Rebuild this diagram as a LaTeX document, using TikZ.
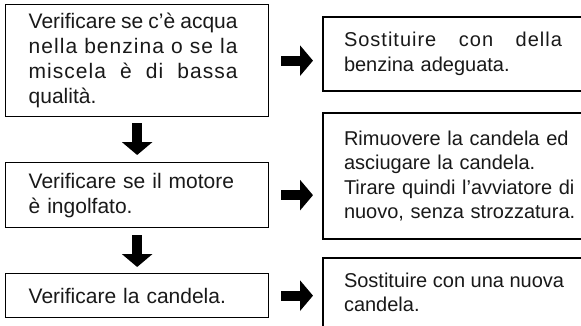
\documentclass[tikz,border=0pt]{standalone}
\usepackage{fontspec}
\setmainfont{Liberation Sans}
\usetikzlibrary{arrows.meta,calc}
\newcommand{\spacedfont}{\addfontfeature{LetterSpace=5}}
\begin{document}
\begin{tikzpicture}[x=1pt,y=-1pt,
  ltxt/.style={font=\fontsize{21}{25}\selectfont, text=black!90, align=left},
  rtxt/.style={font=\fontsize{20}{24.5}\selectfont, text=black!90, align=left},
  lbox/.style={ltxt, draw, line width=1.3pt, anchor=north west, inner xsep=23pt, inner ysep=0pt, text width=217pt},
  rbox/.style={rtxt, draw, line width=2pt, anchor=north west, inner xsep=21pt, inner ysep=0pt, text width=240pt},
  blockarrow/.style={line width=10pt, -{Triangle[width=30pt,length=13pt]}, black}
]
\useasboundingbox (0,0) rectangle (581,325);
\clip (0,0) rectangle (581,325);
\fill[white] (0,0) rectangle (581,325);

\node[lbox, minimum height=112pt] (L1) at (5,4) {%
  \makebox[209pt][l]{Verificare\hfill se\hfill c’è\hfill acqua}\\
  \makebox[209pt][l]{\spacedfont nella\hfill benzina\hfill o\hfill se\hfill la}\\
  \makebox[209pt][l]{\spacedfont miscela\hfill è\hfill di\hfill bassa}\\
  qualità.};
\node[lbox, minimum height=65pt] (L2) at (5,162) {Verificare se il motore\\ è ingolfato.};
\node[lbox, minimum height=44pt] (L3) at (5,273) {Verificare la candela.};

\node[rbox, minimum height=74pt] (R1) at (322,16) {%
  \makebox[218pt][l]{\spacedfont Sostituire\hfill con\hfill della}\\
  benzina adeguata.};
\node[rbox, minimum height=126pt] (R2) at (322,112) {Rimuovere la candela ed\\ asciugare la candela.\\ Tirare quindi l’avviatore di\\ nuovo, senza strozzatura.};
\node[rbox, text width=, inner ysep=15pt] (R3) at (322,257) {%
  \parbox[c][80pt][t]{240pt}{\raggedright Sostituire con una nuova\\ candela.}};

\draw[blockarrow] ([yshift=-6pt]L1.south) -- ([yshift=7pt]L2.north);
\draw[blockarrow] ([yshift=-7pt]L2.south) -- ([yshift=6pt]L3.north);
\draw[blockarrow] ([xshift=12pt]L1.east) -- ([xshift=-9pt]L1.east -| R1.west);
\draw[blockarrow] ([xshift=12pt]L2.east) -- ([xshift=-9pt]L2.east -| R2.west);
\draw[blockarrow] ([xshift=12pt]L3.east) -- ([xshift=-9pt]L3.east -| R3.west);
\end{tikzpicture}
\end{document}
